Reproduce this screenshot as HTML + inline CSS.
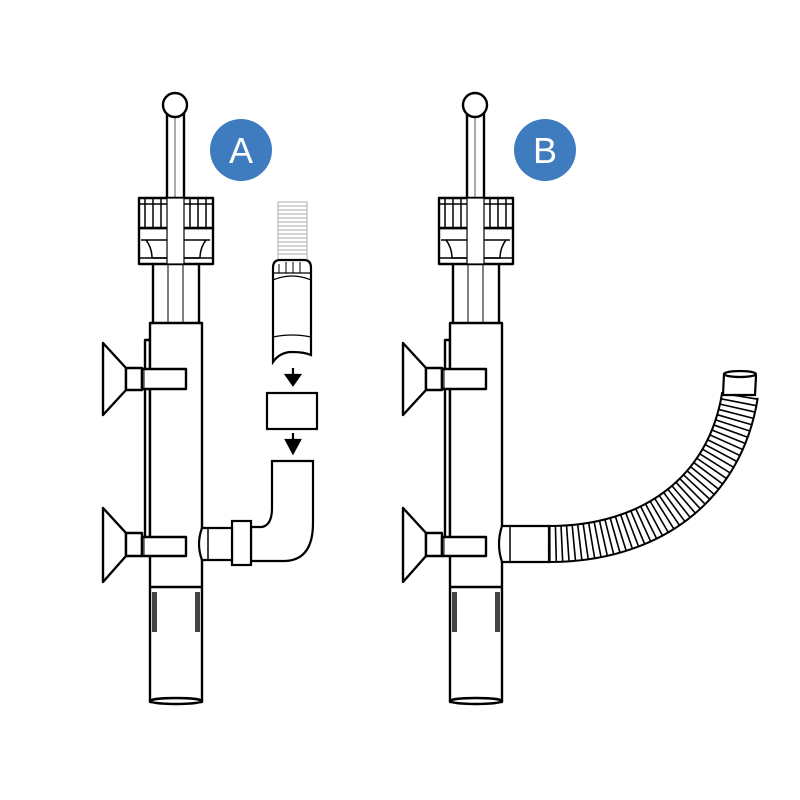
<!DOCTYPE html>
<html><head><style>html,body{margin:0;padding:0;background:#fff;}svg{display:block}</style></head>
<body>
<svg width="800" height="800" viewBox="0 0 800 800" xmlns="http://www.w3.org/2000/svg">
<rect width="800" height="800" fill="#fff"/>
<defs>
<g id="asm" fill="#fff" stroke="#000" stroke-width="2.4" stroke-linejoin="round">
  <rect x="167" y="112" width="17" height="200" />
  <line x1="175" y1="118" x2="175" y2="320" stroke-width="1" stroke="#555"/>
  <circle cx="175" cy="105" r="12"/>
  <rect x="153" y="263" width="46" height="62"/>
  <line x1="168" y1="265" x2="168" y2="323" stroke-width="1"/>
  <line x1="183" y1="265" x2="183" y2="323" stroke-width="1"/>
  <rect x="139" y="228" width="74" height="36"/>
  <path d="M141 240 L210 240 M146 240 Q152 248 152 258 L200 258 Q200 248 206 240" fill="none" stroke-width="1.5"/>
  <line x1="139" y1="258" x2="213" y2="258" stroke-width="1.5"/>
  <rect x="139" y="198" width="74" height="30"/>
  <g stroke-width="1.5">
    <line x1="145" y1="199" x2="145" y2="228"/><line x1="153" y1="199" x2="153" y2="228"/>
    <line x1="161" y1="199" x2="161" y2="228"/><line x1="169" y1="199" x2="169" y2="228"/>
    <line x1="182" y1="199" x2="182" y2="228"/><line x1="190" y1="199" x2="190" y2="228"/>
    <line x1="198" y1="199" x2="198" y2="228"/><line x1="206" y1="199" x2="206" y2="228"/>
    <line x1="139" y1="204" x2="213" y2="204"/>
  </g>
  <rect x="167" y="198" width="17" height="66" stroke-width="1.2"/>
  <rect x="145" y="340" width="5" height="210"/>
  <rect x="150" y="323" width="52" height="379"/>
  <line x1="150" y1="587" x2="202" y2="587"/>
  <rect x="152" y="592" width="5" height="40" fill="#444" stroke="none"/>
  <rect x="195" y="592" width="5" height="40" fill="#444" stroke="none"/>
  <ellipse cx="176" cy="701" rx="26" ry="3"/>
  <path d="M103 343 L126 368 L126 390 L103 415 Z"/>
  <rect x="126" y="368" width="16" height="22"/>
  <rect x="142" y="369" width="44" height="20"/>
  <line x1="144" y1="369" x2="144" y2="389" stroke-width="1"/>
  <path d="M103 508 L126 533 L126 556 L103 582 Z"/>
  <rect x="126" y="533" width="16" height="23"/>
  <rect x="142" y="537" width="44" height="19"/>
  <line x1="144" y1="537" x2="144" y2="556" stroke-width="1"/>
</g>
</defs>

<use href="#asm"/>
<use href="#asm" transform="translate(300,0)"/>

<circle cx="241" cy="150" r="31" fill="#3f7bbf"/>
<text x="241" y="163" text-anchor="middle" font-family="Liberation Sans, sans-serif" font-size="36" fill="#fff">A</text>
<circle cx="545" cy="150" r="31" fill="#3f7bbf"/>
<text x="545" y="163" text-anchor="middle" font-family="Liberation Sans, sans-serif" font-size="36" fill="#fff">B</text>

<g fill="#fff" stroke="#000" stroke-width="2.2">
  <rect x="278" y="202" width="29" height="58" stroke="#bbb" stroke-width="1.2"/>
  <path d="M278 206 H307 M278 210 H307 M278 214 H307 M278 218 H307 M278 222 H307 M278 226 H307 M278 230 H307 M278 234 H307 M278 238 H307 M278 242 H307 M278 246 H307 M278 250 H307 M278 254 H307" stroke="#aaa" stroke-width="1"/>
  <path d="M273 268 Q273 260 280 260 L304 260 Q311 260 311 268 L311 355 Q304 352 292 352 Q280 352 273 362 Z"/>
  <path d="M273 273 H311 M273 280 Q292 272 311 280 M273 337 Q292 333 311 337" fill="none" stroke-width="1.3"/>
  <path d="M279 264 V273 M286 262 V273 M293 262 V273 M300 262 V273" stroke-width="1"/>
  <line x1="293" y1="368" x2="293" y2="378"/>
  <path d="M286 375 L300 375 L293 385 Z" fill="#000"/>
  <rect x="267" y="393" width="50" height="36"/>
  <line x1="293" y1="433" x2="293" y2="443"/>
  <path d="M286 440 L300 440 L293 453 Z" fill="#000"/>
  <path d="M272 461 H313 V523 Q313 560 285 561 H251 V527 H262 Q272 525 272 508 Z"/>
  <rect x="232" y="521" width="19" height="44"/>
  <path d="M202 528 H232 V560 H202 Q196 544 202 528 Z"/>
  <line x1="208" y1="528" x2="208" y2="560" stroke-width="1.5"/>
</g>

<g fill="#fff" stroke="#000" stroke-width="2.2">
  <path d="M502 526 H549 V562 H502 Q496 544 502 526 Z"/>
  <line x1="510" y1="526" x2="510" y2="562" stroke-width="1.5"/>
  <path d="M549 544 C650 544 725 490 740 395" fill="none" stroke="#000" stroke-width="38"/>
  <path d="M549 544 C650 544 725 490 740 395" fill="none" stroke="#fff" stroke-width="34"/>
  <path d="M549 544 C650 544 725 490 740 395" fill="none" stroke="#000" stroke-width="36" stroke-dasharray="1.6 4.4"/>
  <path d="M723 395 L724 374 Q740 370 756 376 L755 395 Z"/>
  <ellipse cx="740" cy="374" rx="16" ry="3"/>
</g>
</svg>
</body></html>
